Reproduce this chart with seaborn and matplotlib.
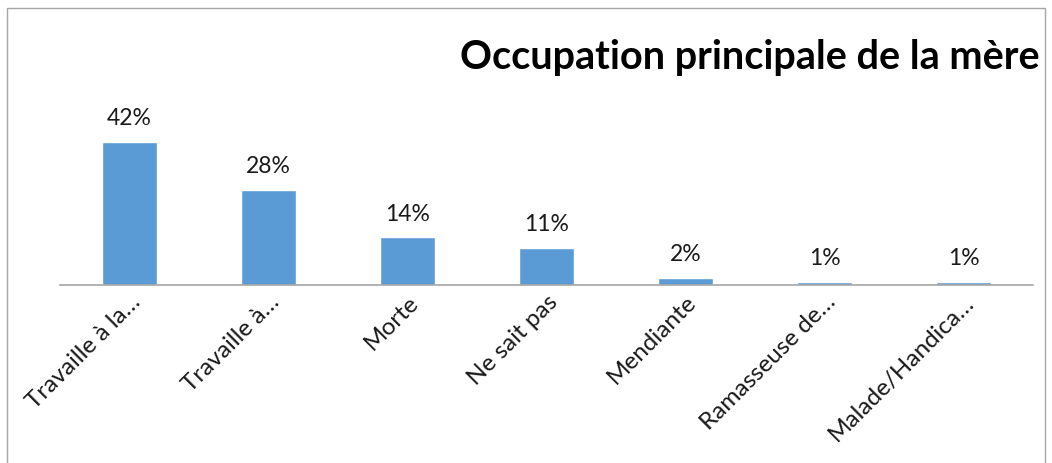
import matplotlib
matplotlib.use("Agg")
import matplotlib.pyplot as plt
import pandas as pd
import seaborn as sns
from matplotlib.patches import Rectangle

categories = [
    "Travaille à la…",
    "Travaille à…",
    "Morte",
    "Ne sait pas",
    "Mendiante",
    "Ramasseuse de…",
    "Malade/Handica…",
]
values = [42, 28, 14, 11, 2, 1, 1]
labels = ["42%", "28%", "14%", "11%", "2%", "1%", "1%"]

sns.set_theme(style="white")
plt.rcParams["font.family"] = ["Lato", "DejaVu Sans"]

df = pd.DataFrame({"cat": categories, "val": values})

fig = plt.figure(figsize=(10.52, 4.64), dpi=100)
ax = fig.add_axes([60 / 1052, (464 - 286) / 464, 973 / 1052, 186 / 464])

sns.barplot(data=df, x="cat", y="val", color="#5B9BD5", width=0.4,
            saturation=1, ax=ax)

for i, (v, lab) in enumerate(zip(values, labels)):
    ax.annotate(lab, (i, v), xytext=(0, 10), textcoords="offset points",
                ha="center", va="bottom", fontsize=16.5, color="#1a1a1a")

ax.set_xlim(-0.5, 6.5)
ax.set_ylim(0, 54.7)
ax.set_xlabel("")
ax.set_ylabel("")
ax.set_yticks([])
for side in ["top", "right", "left"]:
    ax.spines[side].set_visible(False)
ax.spines["bottom"].set_color("#A6A6A6")
ax.spines["bottom"].set_linewidth(1.2)
ax.tick_params(axis="x", length=0, pad=4)
plt.setp(ax.get_xticklabels(), rotation=45, ha="right",
         rotation_mode="anchor", fontsize=17.5, color="#1a1a1a")

fig.text(1040 / 1052, 1 - 58 / 464, "Occupation principale de la mère",
         ha="right", va="center", fontsize=28.5, fontweight="bold",
         color="black")

fig.patches.append(Rectangle((7 / 1052, -0.05), 1038 / 1052, 1.05 - 9 / 464,
                             transform=fig.transFigure, fill=False,
                             edgecolor="#A6A6A6", linewidth=1))

fig.savefig("out.png", dpi=100)
